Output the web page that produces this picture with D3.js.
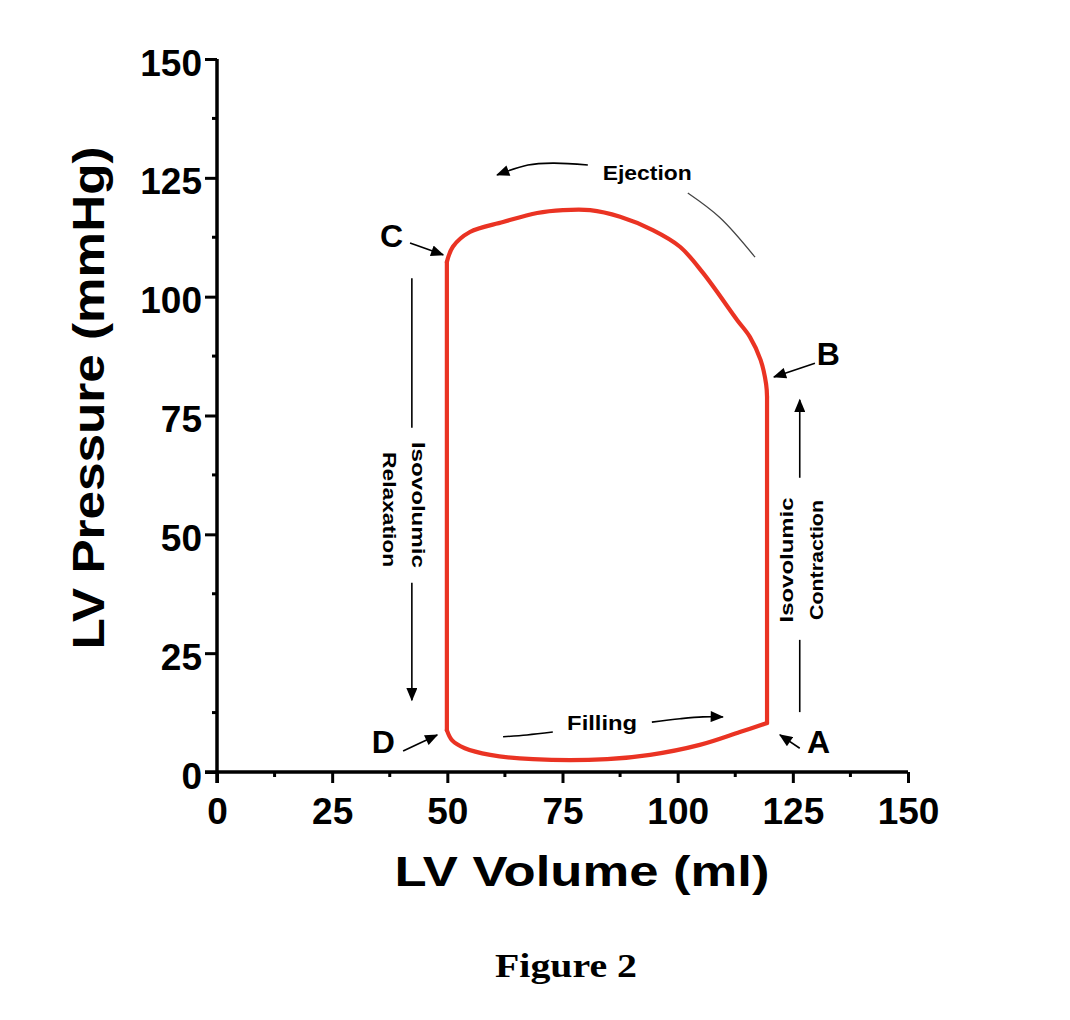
<!DOCTYPE html>
<html>
<head>
<meta charset="utf-8">
<script src="https://cdn.jsdelivr.net/npm/d3@7"></script>
<style>
  html, body { margin: 0; padding: 0; background: #fff; }
  svg { display: block; }
</style>
</head>
<body>
<script>
// ---- data ----
const loopVolume = [119.4, 119.4, 119.2, 118.0, 115.7, 112.9, 105.5, 100.5, 94.6, 87.5, 81.0, 75.1, 69.5, 62.1, 54.9, 51.2, 49.9, 49.9, 51.0, 53.8, 59.3, 68.6, 84.7, 94.0, 104.8, 113.5, 119.4];
const loopPressure = [10.3, 78.9, 81.6, 86.7, 91.5, 95.1, 105.0, 110.5, 114.0, 116.8, 118.2, 118.2, 117.6, 115.7, 113.6, 110.5, 107.3, 8.8, 6.7, 5.0, 3.6, 2.7, 2.7, 3.6, 5.7, 8.4, 10.3];
const xTicks = [0, 25, 50, 75, 100, 125, 150];
const yTicks = [0, 25, 50, 75, 100, 125, 150];
const xTitle = "LV Volume (ml)";
const yTitle = "LV Pressure (mmHg)";
const figureCaption = "Figure 2";
const phaseLabels = ["A", "B", "C", "D"];

const W = 1070, H = 1020;
const svg = d3.select("body").append("svg").attr("width", W).attr("height", H);

const x = d3.scaleLinear().domain([0, 150]).range([217, 908]);
const y = d3.scaleLinear().domain([0, 150]).range([772, 59]);

const FONT = "'Liberation Sans', Arial, Helvetica, sans-serif";

// arrow marker
svg.append("defs").append("marker")
  .attr("id", "ah").attr("markerUnits", "userSpaceOnUse")
  .attr("viewBox", "0 0 12 10").attr("refX", 11).attr("refY", 5)
  .attr("markerWidth", 14).attr("markerHeight", 11).attr("orient", "auto")
  .append("path").attr("d", "M0,0 L12,5 L0,10 Z").attr("fill", "#000");

// ---- axes ----
const gx = svg.append("g").attr("transform", `translate(0,${y(0)})`)
  .call(d3.axisBottom(x).tickValues(xTicks).tickSize(11).tickSizeOuter(0).tickPadding(0).tickFormat(d3.format("d")));
const gy = svg.append("g").attr("transform", `translate(${x(0)},0)`)
  .call(d3.axisLeft(y).tickValues(yTicks).tickSize(12).tickSizeOuter(0).tickPadding(0).tickFormat(d3.format("d")));

[gx, gy].forEach(g => {
  g.select(".domain").attr("stroke", "#000").attr("stroke-width", 3.5);
  g.selectAll(".tick line").attr("stroke", "#000").attr("stroke-width", 3);
  g.selectAll(".tick text").attr("fill", "#000").style("font-family", FONT)
    .style("font-weight", "bold").style("font-size", "37px");
});
gx.select(".domain").attr("d", `M${x(0) - 12},0H${x(150)}`);
gy.select(".domain").attr("d", `M0,${y(0) + 11}V${y(150)}`);
gx.selectAll(".tick text").attr("y", 52).attr("dy", null);
gy.selectAll(".tick text").attr("x", -15).attr("dy", 16);

// minor ticks
const minor = d3.range(12.5, 150, 25);
svg.append("g").selectAll("line").data(minor).join("line")
  .attr("x1", d => x(d)).attr("x2", d => x(d)).attr("y1", y(0)).attr("y2", y(0) + 5)
  .attr("stroke", "#000").attr("stroke-width", 3);
svg.append("g").selectAll("line").data(minor).join("line")
  .attr("y1", d => y(d)).attr("y2", d => y(d)).attr("x1", x(0)).attr("x2", x(0) - 5)
  .attr("stroke", "#000").attr("stroke-width", 3);

// axis titles
svg.append("text").attr("x", 582).attr("y", 886).attr("text-anchor", "middle")
  .attr("textLength", 375).attr("lengthAdjust", "spacingAndGlyphs")
  .style("font-family", FONT).style("font-weight", "bold").style("font-size", "42px").text(xTitle);
svg.append("text").attr("transform", "translate(104,398) rotate(-90)").attr("text-anchor", "middle")
  .attr("textLength", 503).attr("lengthAdjust", "spacingAndGlyphs")
  .style("font-family", FONT).style("font-weight", "bold").style("font-size", "44px").text(yTitle);

// ---- PV loop: right wall, ejection curve, left wall, filling curve ----
const pts = loopVolume.map((v, i) => [v, loopPressure[i]]);
const loopLine = d3.line().x(d => x(d[0])).y(d => y(d[1])).curve(d3.curveCatmullRom.alpha(0.5));
const segments = [pts.slice(0, 2), pts.slice(1, 17), pts.slice(16, 18), pts.slice(17)];
svg.append("g").selectAll("path").data(segments).join("path")
  .attr("d", loopLine)
  .attr("fill", "none").attr("stroke", "#ea3323").attr("stroke-width", 4.2)
  .attr("stroke-linejoin", "round").attr("stroke-linecap", "round");

// ---- annotations ----
const line = d3.line().x(d => x(d[0])).y(d => y(d[1])).curve(d3.curveCatmullRom);
function arrow(points, head = true, color = "#000", w = 1.6) {
  const p = svg.append("path").datum(points).attr("d", line)
    .attr("fill", "none").attr("stroke", color).attr("stroke-width", w);
  if (head) p.attr("marker-end", "url(#ah)");
}
function label(t, vx, vy, size, opts = {}) {
  const el = svg.append("text").attr("x", x(vx)).attr("y", y(vy))
    .attr("text-anchor", opts.anchor || "start")
    .style("font-family", FONT).style("font-weight", "bold").style("font-size", size + "px").text(t);
  if (opts.len) el.attr("textLength", opts.len).attr("lengthAdjust", "spacingAndGlyphs");
  return el;
}
function vlabel(t, vx, vy, size, rot, len) {
  svg.append("text").attr("transform", `translate(${x(vx)},${y(vy)}) rotate(${rot})`)
    .attr("text-anchor", "middle").attr("textLength", len).attr("lengthAdjust", "spacingAndGlyphs")
    .style("font-family", FONT).style("font-weight", "bold").style("font-size", size + "px").text(t);
}

// Ejection
label("Ejection", 93.4, 124.5, 21, { anchor: "middle", len: 89 });
arrow([[80.5, 127.7], [72.9, 128.1], [67.5, 127.7], [60.8, 125.6]]);
arrow([[102.2, 121.8], [109.2, 116.6], [116.8, 108.3]], false, "#444", 1.3);

// phase letters
label(phaseLabels[2], 35.4, 110.5, 32);
arrow([[41.9, 111.3], [49.1, 108.8]]);
label(phaseLabels[1], 130.2, 85.6, 32);
arrow([[129.8, 86.0], [120.9, 83.1]]);
label(phaseLabels[0], 128.1, 4.0, 32);
arrow([[126.5, 5.0], [122.2, 7.8]]);
label(phaseLabels[3], 33.6, 4.0, 32);
arrow([[40.4, 4.4], [47.8, 7.8]]);

// Isovolumic contraction (up arrow)
arrow([[126.5, 12.6], [126.5, 27.8]], false);
arrow([[126.5, 61.9], [126.5, 78.3]]);
vlabel("Isovolumic", 125.0, 44.6, 18, -90, 125);
vlabel("Contraction", 131.5, 44.6, 18, -90, 120);

// Isovolumic relaxation (down arrow)
arrow([[42.3, 103.9], [42.3, 72.4]], false);
arrow([[42.3, 39.8], [42.3, 15.1]]);
vlabel("Isovolumic", 42.3, 56.2, 18, 90, 126);
vlabel("Relaxation", 36.0, 55.2, 18, 90, 115);

// Filling
label("Filling", 83.6, 8.8, 20, { anchor: "middle", len: 70 });
arrow([[62.1, 7.4], [67.3, 7.8], [72.9, 8.4]], false);
arrow([[94.4, 10.5], [100.5, 11.2], [105.5, 11.6], [109.8, 11.6]]);

// caption
svg.append("text").attr("x", 566).attr("y", 977).attr("text-anchor", "middle")
  .attr("textLength", 142).attr("lengthAdjust", "spacingAndGlyphs")
  .style("font-family", "'Liberation Serif', 'Times New Roman', serif").style("font-weight", "bold")
  .style("font-size", "34px").text(figureCaption);
</script>
</body>
</html>
